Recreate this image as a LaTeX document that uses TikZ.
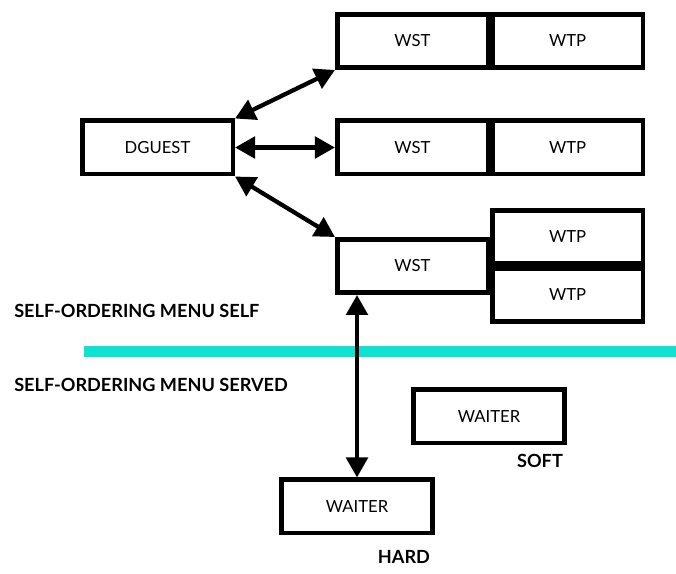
\documentclass[tikz,border=0pt]{standalone}
\usepackage{fontspec}
\setmainfont{Lato}
\usetikzlibrary{arrows.meta,positioning}
\definecolor{menucyan}{RGB}{12,228,208}
\tikzset{
  unitbox/.style={draw, line width=3.4pt, minimum width=112.9pt, minimum height=40.1pt,
    inner sep=0pt, font=\fontsize{12.5}{14}\selectfont},
  tag/.style={inner sep=0pt, font=\fontsize{13.6}{15}\selectfont\bfseries},
  link/.style={line width=3.2pt, {Triangle[length=15pt,width=16pt]}-{Triangle[length=15pt,width=16pt]}}
}
\begin{document}
\begin{tikzpicture}[x=0.75pt,y=-0.75pt]
\useasboundingbox (0,0) rectangle (676,574);
% self-ordering side
\node[unitbox] (dguest) at (157.5,147.5) {DGUEST};
\node[unitbox] (wst1) at (412.5,41) {WST};
\node[unitbox, right=0pt of wst1] (wtp1) {WTP};
\node[unitbox] (wst2) at (412.5,147.5) {WST};
\node[unitbox, right=0pt of wst2] (wtp2) {WTP};
\node[unitbox] (wst3) at (412.5,266) {WST};
\node[unitbox, anchor=south west] (wtp3a) at (wst3.east) {WTP};
\node[unitbox, anchor=north west] (wtp3b) at (wst3.east) {WTP};
\draw[link] (dguest.north east) -- (wst1.south west);
\draw[link] (dguest.east) -- (wst2.west);
\draw[link] (dguest.south east) -- (wst3.north west);
% divider
\node[tag, anchor=west] (selflbl) at (14,311) {SELF-ORDERING MENU SELF};
\draw[menucyan, line width=8.25pt] (84,351.5) coordinate (divl) -- (676,351.5) coordinate (divr);
\node[tag, anchor=west] (servedlbl) at (14,385) {SELF-ORDERING MENU SERVED};
% served side
\node[unitbox] (soft) at (489,416.5) {WAITER};
\node[tag] (softlbl) at (540,461) {SOFT};
\node[unitbox] (hard) at (357,506.5) {WAITER};
\node[tag] (hardlbl) at (404,557) {HARD};
\draw[link] (hard.north) -- (hard.north |- wst3.south);
\end{tikzpicture}
\end{document}
